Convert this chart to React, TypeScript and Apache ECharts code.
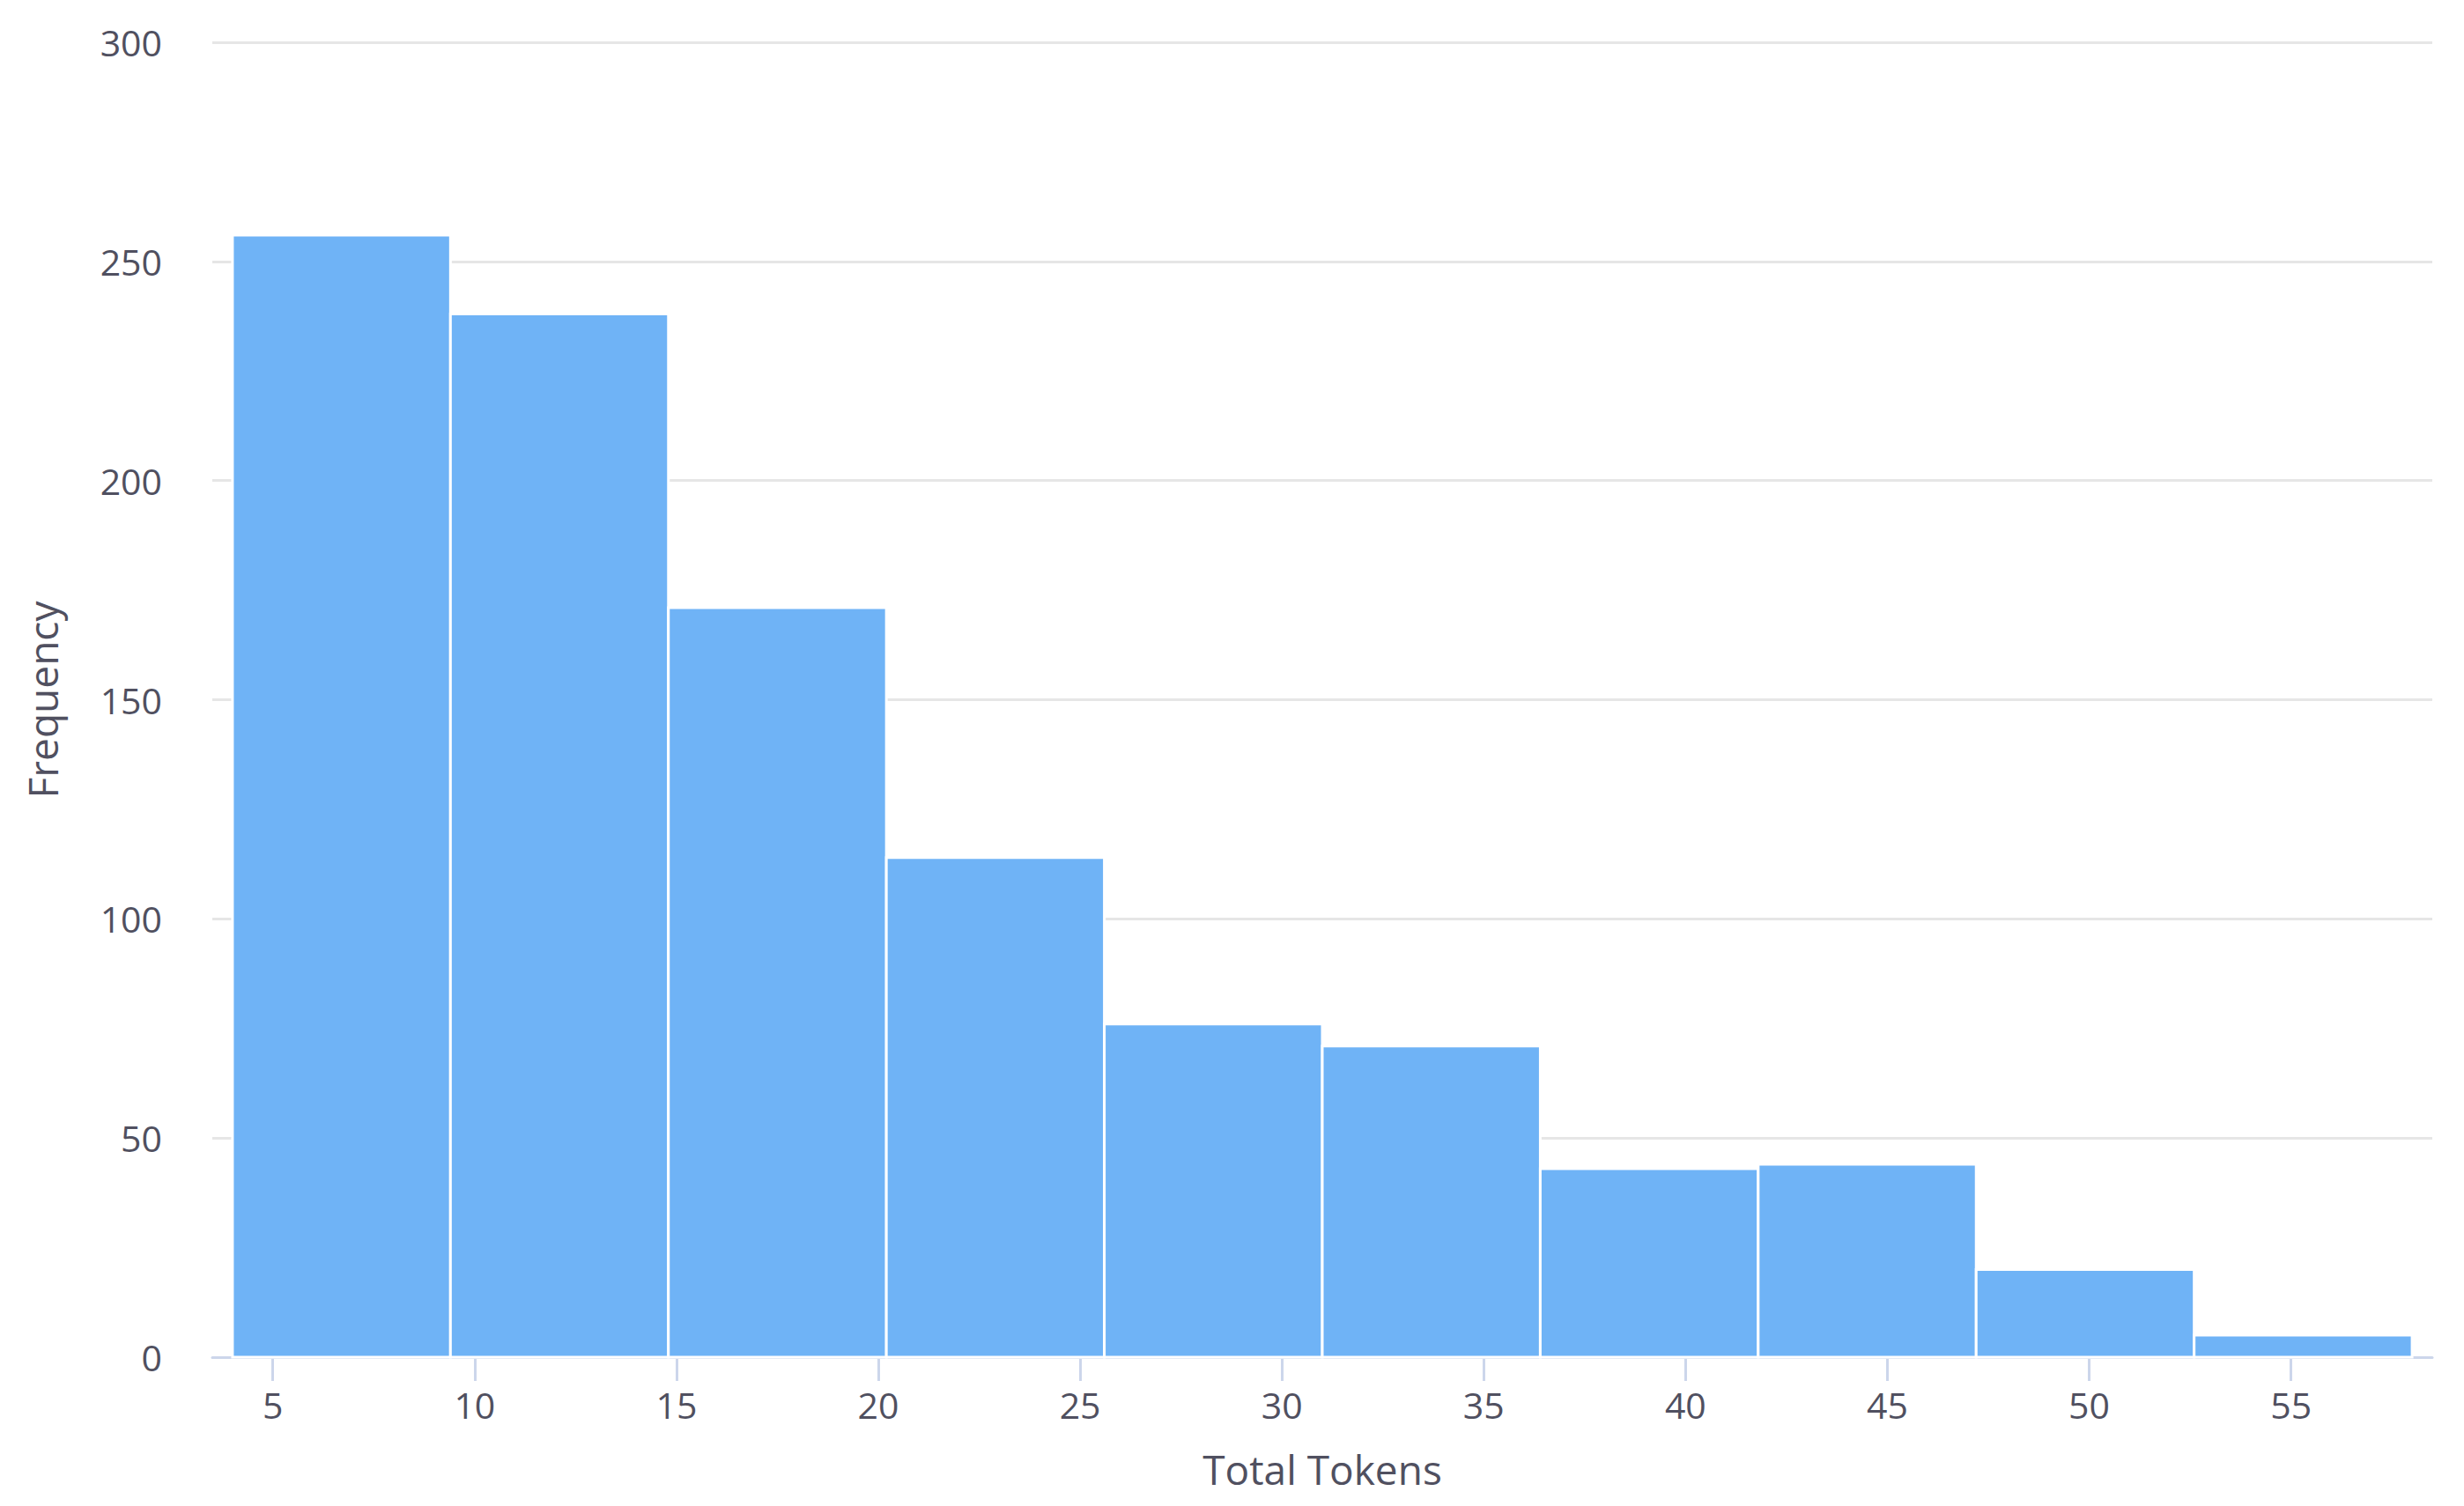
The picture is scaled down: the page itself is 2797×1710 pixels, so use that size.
import React, { useEffect, useRef } from "react";
import * as echarts from "echarts";

const binEdges = [4, 9.4, 14.8, 20.2, 25.6, 31, 36.4, 41.8, 47.2, 52.6, 58];
const counts = [256, 238, 171, 114, 76, 71, 43, 44, 20, 5];
const xTicks = [5, 10, 15, 20, 25, 30, 35, 40, 45, 50, 55];
const yTicks = [0, 50, 100, 150, 200, 250, 300];

export default function App() {
  const ref = useRef<HTMLDivElement>(null);
  useEffect(() => {
    if (!ref.current) return;
    const chart = echarts.init(ref.current, null, { renderer: "svg" });
    const data = counts.map((c, i) => [binEdges[i], binEdges[i + 1], c]);
    const font = "Open Sans";
    const textColor = "#505060";
    chart.setOption({
      animation: false,
      backgroundColor: "#ffffff",
      grid: { left: 241, right: 36, top: 48, bottom: 169 },
      xAxis: {
        type: "value",
        min: 3.5,
        max: 58.5,
        name: "Total Tokens",
        nameLocation: "middle",
        nameGap: 104,
        nameTextStyle: { fontFamily: font, fontSize: 46, color: textColor },
        axisLine: { show: true, lineStyle: { color: "#ccd6eb", width: 3 } },
        axisTick: { show: true, length: 27, lineStyle: { color: "#ccd6eb", width: 3 }, customValues: xTicks },
        axisLabel: { customValues: xTicks, margin: 33, fontFamily: font, fontSize: 41, color: textColor },
        splitLine: { show: false },
      },
      yAxis: {
        type: "value",
        min: yTicks[0],
        max: yTicks[yTicks.length - 1],
        interval: 50,
        name: "Frequency",
        nameLocation: "middle",
        nameGap: 170,
        nameTextStyle: { fontFamily: font, fontSize: 46, color: textColor },
        axisLine: { show: false },
        axisTick: { show: false },
        axisLabel: { margin: 57, fontFamily: font, fontSize: 41, color: textColor },
        splitLine: { show: true, lineStyle: { color: "#e6e6e6", width: 3 } },
      },
      series: [
        {
          type: "custom",
          data,
          encode: { x: [0, 1], y: 2 },
          renderItem: (params: any, api: any) => {
            const p0 = api.coord([api.value(0), api.value(2)]);
            const p1 = api.coord([api.value(1), 0]);
            return {
              type: "rect",
              shape: { x: p0[0], y: p0[1], width: p1[0] - p0[0], height: p1[1] - p0[1] },
              style: { fill: "#6fb3f6", stroke: "#ffffff", lineWidth: 3 },
            };
          },
        },
      ],
    });
    return () => chart.dispose();
  }, []);
  return (
    <div
      ref={ref}
      style={{ position: "absolute", left: 0, top: 0, width: 2797, height: 1710 }}
    />
  );
}
